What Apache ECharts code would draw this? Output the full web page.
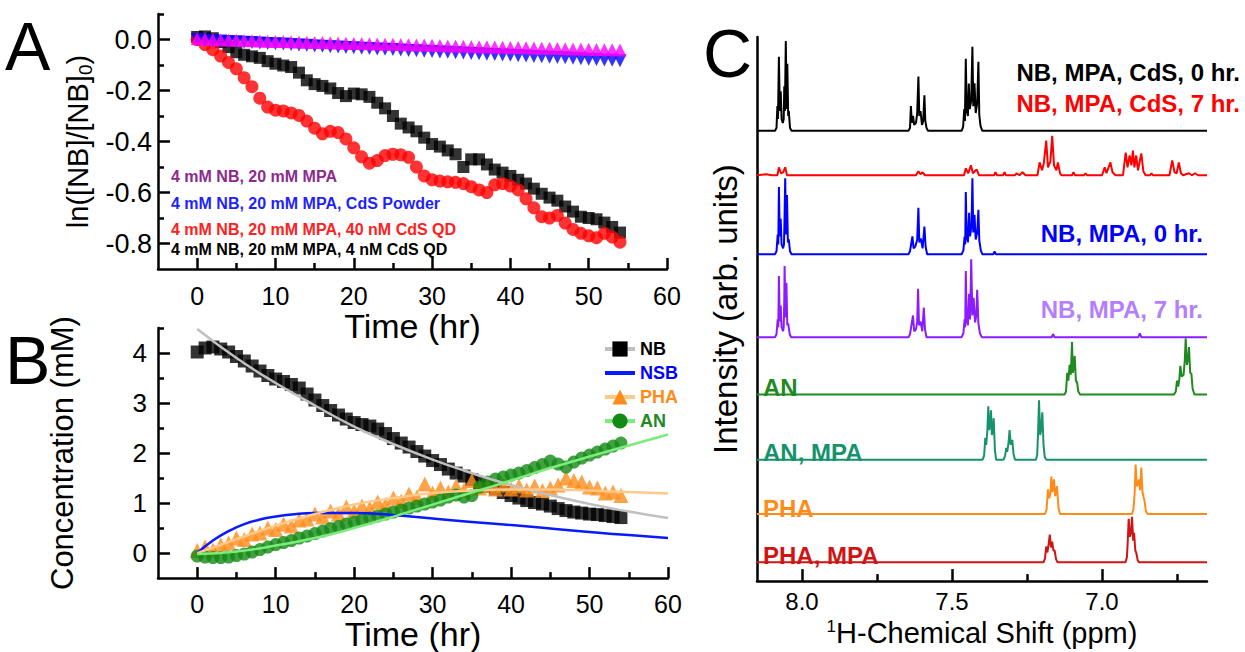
<!DOCTYPE html>
<html>
<head>
<meta charset="utf-8">
<script src="https://cdn.jsdelivr.net/npm/echarts@6/dist/echarts.min.js"></script>
<style>
html, body {margin: 0; padding: 0; background: #fff;}
#main_chart {width: 1245px; height: 652px;}
</style>
</head>
<body>
<div id="main_chart"></div>
<script>
// A 图：ln([NB]/[NB]0) 随时间变化
var hours = [0,1,2,3,4,5,6,7,8,9,10,11,12,13,14,15,16,17,18,19,20,21,22,23,24,25,26,27,28,29,30,31,32,33,34,35,36,37,38,39,40,41,42,43,44,45,46,47,48,49,50,51,52,53,54];
var ln_magenta = [0.003,0.002,0.0,-0.001,-0.002,-0.003,-0.004,-0.005,-0.006,-0.007,-0.008,-0.008,-0.009,-0.01,-0.011,-0.012,-0.012,-0.013,-0.014,-0.015,-0.016,-0.016,-0.017,-0.018,-0.019,-0.019,-0.02,-0.021,-0.022,-0.022,-0.023,-0.024,-0.025,-0.025,-0.026,-0.027,-0.028,-0.028,-0.029,-0.03,-0.031,-0.031,-0.032,-0.033,-0.034,-0.034,-0.035,-0.036,-0.037,-0.037,-0.038,-0.039,-0.04,-0.04,-0.041];
var ln_blue = [0,-0.002,-0.005,-0.006,-0.008,-0.009,-0.011,-0.012,-0.014,-0.016,-0.017,-0.018,-0.02,-0.022,-0.023,-0.025,-0.026,-0.028,-0.029,-0.031,-0.032,-0.034,-0.035,-0.037,-0.038,-0.039,-0.041,-0.043,-0.044,-0.046,-0.047,-0.049,-0.05,-0.052,-0.053,-0.055,-0.056,-0.058,-0.059,-0.061,-0.062,-0.064,-0.065,-0.067,-0.068,-0.07,-0.071,-0.072,-0.074,-0.075,-0.077,-0.078,-0.08,-0.081,-0.083];
var ln_red = [0,-0.02,-0.04,-0.065,-0.09,-0.115,-0.15,-0.185,-0.23,-0.265,-0.277,-0.28,-0.288,-0.298,-0.32,-0.348,-0.37,-0.36,-0.365,-0.39,-0.425,-0.46,-0.485,-0.475,-0.455,-0.45,-0.452,-0.462,-0.5,-0.535,-0.55,-0.555,-0.558,-0.56,-0.565,-0.577,-0.59,-0.6,-0.57,-0.565,-0.575,-0.59,-0.625,-0.66,-0.695,-0.7,-0.69,-0.72,-0.745,-0.76,-0.77,-0.777,-0.76,-0.775,-0.795];
var ln_black = [0.01,0.012,0.005,-0.01,-0.03,-0.05,-0.06,-0.066,-0.072,-0.085,-0.095,-0.102,-0.108,-0.13,-0.16,-0.175,-0.182,-0.192,-0.21,-0.222,-0.212,-0.215,-0.225,-0.248,-0.27,-0.3,-0.33,-0.345,-0.36,-0.385,-0.41,-0.42,-0.435,-0.45,-0.5,-0.47,-0.47,-0.49,-0.51,-0.522,-0.535,-0.55,-0.565,-0.585,-0.605,-0.62,-0.632,-0.655,-0.675,-0.695,-0.7,-0.705,-0.718,-0.735,-0.757];
var a_labels = ['4 mM NB, 20 mM MPA', '4 mM NB, 20 mM MPA, CdS Powder', '4 mM NB, 20 mM MPA, 40 nM CdS QD', '4 mM NB, 20 mM MPA, 4 nM CdS QD'];

// B 图：浓度 (mM)
var conc_nb = [4.02,4.1,4.12,4.08,4.02,3.93,3.84,3.74,3.64,3.55,3.48,3.43,3.37,3.3,3.18,3.06,2.95,2.85,2.76,2.68,2.61,2.57,2.54,2.48,2.39,2.29,2.2,2.12,2.03,1.94,1.85,1.77,1.68,1.6,1.54,1.47,1.4,1.34,1.28,1.21,1.15,1.1,1.05,1.01,0.98,0.94,0.89,0.85,0.82,0.8,0.78,0.77,0.75,0.73,0.71];
var conc_pha = [0.05,0.12,0.06,0.16,0.2,0.3,0.27,0.38,0.4,0.5,0.47,0.58,0.54,0.66,0.68,0.78,0.72,0.84,0.78,0.92,0.84,0.94,0.9,1.02,0.97,1.1,1.04,1.18,1.12,1.38,1.2,1.3,1.22,1.34,1.26,1.45,1.3,1.36,1.28,1.36,1.28,1.34,1.26,1.34,1.25,1.3,1.36,1.5,1.45,1.42,1.32,1.3,1.2,1.22,1.15];
var conc_an = [-0.06,-0.08,-0.09,-0.09,-0.08,-0.05,-0.02,0.02,0.07,0.12,0.17,0.21,0.25,0.3,0.34,0.39,0.44,0.49,0.53,0.58,0.62,0.66,0.7,0.74,0.78,0.82,0.86,0.9,0.94,0.98,1.02,1.06,1.12,1.16,1.12,1.15,1.32,1.42,1.48,1.52,1.56,1.6,1.65,1.71,1.77,1.84,1.78,1.72,1.82,1.9,1.96,2.02,2.08,2.14,2.2];
var fit_time = [0,5,10,15,20,25,30,35,40,45,50,55,60];
var fit_nb = [4.48,3.9,3.4,2.95,2.53,2.18,1.87,1.6,1.36,1.16,0.98,0.83,0.7];
var fit_pha = [0,0.28,0.55,0.78,0.97,1.1,1.2,1.25,1.27,1.27,1.25,1.22,1.19];
var fit_an = [-0.02,0.03,0.15,0.3,0.5,0.73,0.97,1.21,1.45,1.7,1.93,2.15,2.37];
var nsb_time = [0,2,4,6,8,10,12,15,20,25,30,35,40,45,50,55,60];
var nsb_model = [0,0.25,0.44,0.58,0.67,0.73,0.77,0.8,0.8,0.76,0.69,0.62,0.56,0.49,0.42,0.36,0.3];

// C 图：核磁谱 [ppm, 强度]
var spec_nb_cds_0 = [[8.15,0],[8.090,0],[8.085,3],[8.082,25],[8.080,12],[8.077,75],[8.074,20],[8.071,40],[8.068,12],[8.064,8],[8.061,12],[8.059,45],[8.057,20],[8.054,91],[8.051,22],[8.049,68],[8.046,15],[8.044,20],[8.040,3],[8.035,0],
  [7.645,0],[7.640,3],[7.637,25],[7.634,8],[7.630,15],[7.626,6],[7.620,8],[7.616,18],[7.612,55],[7.609,15],[7.605,20],[7.600,6],[7.596,10],[7.592,36],[7.589,10],[7.585,3],[7.580,0],
  [7.468,0],[7.463,4],[7.459,22],[7.457,10],[7.454,73],[7.451,20],[7.447,15],[7.444,48],[7.441,22],[7.436,30],[7.432,85],[7.429,25],[7.425,48],[7.421,18],[7.416,28],[7.412,70],[7.409,16],[7.405,5],[7.399,0],[6.65,0]];
var spec_nb_cds_7 = [[8.15,0],[8.12,1],[8.10,0],[8.082,0],[8.077,8],[8.070,2],[8.063,3],[8.056,8],[8.050,0],
  [7.62,0],[7.612,4],[7.605,1],[7.598,3],[7.59,0],
  [7.46,0],[7.454,7],[7.446,2],[7.437,10],[7.430,2],[7.418,6],[7.41,0],
  [7.36,0],[7.355,3],[7.35,0],[7.33,0],[7.325,3],[7.32,0],[7.29,0],[7.285,2],[7.275,0],[7.265,3],[7.255,0],
  [7.215,0],[7.208,13],[7.2,5],[7.194,12],[7.186,35],[7.180,8],[7.172,14],[7.166,40],[7.160,10],[7.152,5],[7.147,13],[7.140,2],[7.135,0],
  [7.10,0],[7.095,3],[7.09,0],[7.06,0],[7.055,2],[7.05,0],
  [7.0,0],[6.991,8],[6.985,2],[6.972,13],[6.965,3],[6.955,0],[6.93,0],[6.921,23],[6.915,8],[6.908,20],[6.902,10],[6.897,25],[6.892,8],[6.886,20],[6.880,5],[6.869,22],[6.862,4],[6.855,0],[6.84,0],[6.835,2],[6.83,0],
  [6.775,0],[6.766,15],[6.758,3],[6.751,2],[6.744,13],[6.737,2],[6.73,0],[6.71,2],[6.70,0],[6.69,2],[6.68,0],[6.65,0]];
var spec_nb_0 = [[8.15,0],[8.090,0],[8.085,3],[8.081,20],[8.079,10],[8.077,68],[8.074,18],[8.071,36],[8.068,10],[8.063,6],[8.060,10],[8.058,40],[8.056,77],[8.053,20],[8.050,60],[8.047,12],[8.044,15],[8.040,3],[8.035,0],
  [7.645,0],[7.640,3],[7.632,18],[7.628,6],[7.622,8],[7.616,15],[7.612,47],[7.609,12],[7.604,16],[7.598,6],[7.592,28],[7.588,8],[7.583,0],
  [7.468,0],[7.462,4],[7.458,18],[7.456,10],[7.454,63],[7.451,18],[7.447,12],[7.443,42],[7.440,18],[7.435,28],[7.432,77],[7.429,22],[7.425,40],[7.421,15],[7.416,22],[7.412,45],[7.409,14],[7.404,4],[7.399,0],
  [7.362,0],[7.358,3],[7.354,0],[6.65,0]];
var spec_nb_7 = [[8.15,0],[8.090,0],[8.085,3],[8.081,18],[8.079,10],[8.077,62],[8.074,16],[8.071,32],[8.068,10],[8.063,6],[8.061,10],[8.059,38],[8.058,72],[8.055,20],[8.052,55],[8.049,12],[8.046,14],[8.041,3],[8.036,0],
  [7.645,0],[7.640,3],[7.630,22],[7.626,6],[7.620,8],[7.616,16],[7.613,49],[7.610,12],[7.605,16],[7.599,6],[7.594,30],[7.590,8],[7.585,0],
  [7.468,0],[7.462,4],[7.458,18],[7.456,10],[7.454,67],[7.451,18],[7.447,12],[7.443,44],[7.440,18],[7.439,28],[7.436,79],[7.432,22],[7.428,40],[7.423,15],[7.419,22],[7.416,48],[7.412,14],[7.407,4],[7.401,0],
  [7.168,0],[7.163,3],[7.158,0],[6.879,0],[6.874,4],[6.869,0],[6.65,0]];
var spec_an = [[8.15,0],[7.125,0],[7.120,3],[7.116,22],[7.112,14],[7.108,30],[7.104,20],[7.100,53],[7.097,22],[7.094,28],[7.091,39],[7.087,14],[7.083,12],[7.079,3],[7.073,0],
  [6.760,0],[6.754,3],[6.750,14],[6.746,8],[6.742,16],[6.739,29],[6.734,18],[6.728,20],[6.724,35],[6.721,57],[6.717,30],[6.713,36],[6.710,48],[6.706,22],[6.702,21],[6.698,6],[6.692,0],[6.65,0]];
var spec_an_mpa = [[8.15,0],[7.398,0],[7.393,4],[7.389,22],[7.386,15],[7.382,30],[7.379,54],[7.376,30],[7.373,35],[7.370,50],[7.367,25],[7.364,28],[7.361,42],[7.357,10],[7.353,0],
  [7.328,0],[7.323,4],[7.319,12],[7.316,8],[7.312,16],[7.308,30],[7.304,15],[7.299,20],[7.295,6],[7.290,0],
  [7.220,0],[7.216,5],[7.213,28],[7.210,60],[7.206,25],[7.203,30],[7.199,48],[7.195,15],[7.191,3],[7.186,0],[6.65,0]];
var spec_pha = [[8.15,0],[7.190,0],[7.185,4],[7.180,25],[7.176,16],[7.172,20],[7.169,38],[7.165,22],[7.160,35],[7.156,18],[7.150,28],[7.145,6],[7.140,0],
  [6.900,0],[6.895,5],[6.891,22],[6.888,50],[6.884,28],[6.880,30],[6.877,35],[6.873,24],[6.869,47],[6.865,22],[6.862,18],[6.858,13],[6.854,3],[6.848,0],[6.65,0]];
var spec_pha_mpa = [[8.15,0],[7.195,0],[7.190,4],[7.186,16],[7.182,10],[7.178,18],[7.174,28],[7.170,15],[7.166,21],[7.162,12],[7.158,12],[7.153,3],[7.148,0],
  [6.922,0],[6.917,5],[6.914,22],[6.911,44],[6.907,26],[6.903,30],[6.900,46],[6.896,22],[6.893,30],[6.889,12],[6.886,10],[6.881,2],[6.876,0],[6.65,0]];
var spec_names = ['NB, MPA, CdS, 0 hr.', 'NB, MPA, CdS, 7 hr.', 'NB, MPA, 0 hr.', 'NB, MPA, 7 hr.', 'AN', 'AN, MPA', 'PHA', 'PHA, MPA'];
var spec_offset = [456, 411, 331, 247, 189, 123, 68, 19];

var FONT = "'Liberation Sans', Arial, sans-serif";
var TICK = {color: '#000', width: 2.5};

function pairs(xs, ys) {
    return xs.map(function (x, i) { return [x, ys[i]]; });
}

function shift(spec, off) {
    return spec.map(function (p) { return [p[0], p[1] + off]; });
}

function one_dec(v) {
    return v.toFixed(1);
}

// 主刻度轴（带刻度标签）
function tick_axis(gridIndex, extra) {
    var axis = {
        type: 'value',
        gridIndex: gridIndex,
        splitLine: {show: false},
        axisLine: {show: true, onZero: false, lineStyle: {color: '#000', width: 2.5}},
        nameTextStyle: {color: '#000', fontSize: 34, fontFamily: FONT}
    };
    return Object.assign(axis, extra);
}

// 次刻度轴（只画短刻度）
function minor_axis(gridIndex, pos, extra) {
    var axis = {
        type: 'value',
        gridIndex: gridIndex,
        position: pos,
        splitLine: {show: false},
        axisLine: {show: false, onZero: false},
        axisLabel: {show: false}
    };
    return Object.assign(axis, extra);
}

// 初始化 echarts 实例
var main_chart = echarts.init(document.getElementById('main_chart'), null, {renderer: 'svg'});

var spec_list = [spec_nb_cds_0, spec_nb_cds_7, spec_nb_0, spec_nb_7, spec_an, spec_an_mpa, spec_pha, spec_pha_mpa];
var spec_colors = ['#000000', '#ff0000', '#0000ff', '#8a1cff', '#1f8a1f', '#16936c', '#ff8c1a', '#d01414'];
var label_colors = ['#000000', '#ff0000', '#0000ff', '#b47fff', '#1f8a1f', '#16936c', '#ff8c1a', '#d01414'];

var spec_series = spec_list.map(function (spec, i) {
    return {
        name: spec_names[i],
        type: 'line',
        xAxisIndex: 4,
        yAxisIndex: 4,
        data: shift(spec, spec_offset[i]),
        symbol: 'none',
        lineStyle: {color: spec_colors[i], width: 2},
        z: 3
    };
});

var graphic_text = [
    {type: 'text', left: 5, top: 12, style: {text: 'A', fontSize: 68, fontFamily: FONT, fill: '#000'}},
    {type: 'text', left: 5, top: 326, style: {text: 'B', fontSize: 68, fontFamily: FONT, fill: '#000'}},
    {type: 'text', left: 703, top: 19, style: {text: 'C', fontSize: 68, fontFamily: FONT, fill: '#000'}}
];

var a_colors = ['#8e2a8e', '#1f1fff', '#ff2020', '#000000'];
var a_ys = [176, 203, 229, 249];
a_labels.forEach(function (t, i) {
    graphic_text.push({type: 'text', x: 171, y: a_ys[i], style: {text: t, fontSize: 16, fontWeight: 'bold', fontFamily: FONT, fill: a_colors[i], textVerticalAlign: 'middle'}});
});

var c_label_x = [1240, 1240, 1203, 1203, 763, 763, 763, 763];
var c_label_y = [72, 103, 233, 309, 387, 452, 508, 555];
spec_names.forEach(function (t, i) {
    graphic_text.push({type: 'text', x: c_label_x[i], y: c_label_y[i], style: {text: t, fontSize: 24, fontWeight: 'bold', fontFamily: FONT, fill: label_colors[i], textAlign: i < 4 ? 'right' : 'left', textVerticalAlign: 'middle'}});
});

var option = {
    animation: false,
    backgroundColor: '#fff',
    textStyle: {fontFamily: FONT},
    graphic: graphic_text,
    grid: [
        {left: 158, top: 14, width: 509, height: 255},
        {left: 158, top: 328, width: 510, height: 255},
        {left: 757, top: 37, width: 450, height: 551}
    ],
    legend: {
        left: 598,
        top: 335,
        orient: 'vertical',
        itemGap: 6,
        itemWidth: 30,
        itemHeight: 19,
        lineStyle: {width: 4},
        textStyle: {fontSize: 18, fontWeight: 'bold', fontFamily: FONT},
        data: [
            {name: 'NB', textStyle: {color: '#000'}},
            {name: 'NSB', textStyle: {color: '#0000ff'}, itemStyle: {opacity: 0}},
            {name: 'PHA', textStyle: {color: '#ff8c1a'}},
            {name: 'AN', textStyle: {color: '#1f8a1f'}}
        ]
    },
    xAxis: [
        tick_axis(0, {min: -5, max: 60, name: 'Time (hr)', nameLocation: 'middle', nameGap: 33,
            axisTick: {show: true, inside: true, length: 11, customValues: [0, 10, 20, 30, 40, 50, 60], lineStyle: TICK},
            axisLabel: {color: '#000', fontSize: 25, fontFamily: FONT, margin: 14, customValues: [0, 10, 20, 30, 40, 50, 60]}}),
        minor_axis(0, 'bottom', {min: -5, max: 60, axisTick: {show: true, inside: true, length: 6, customValues: [5, 15, 25, 35, 45, 55], lineStyle: TICK}}),
        tick_axis(1, {min: -5, max: 60, name: 'Time (hr)', nameLocation: 'middle', nameGap: 34,
            axisTick: {show: true, inside: true, length: 11, customValues: [0, 10, 20, 30, 40, 50, 60], lineStyle: TICK},
            axisLabel: {color: '#000', fontSize: 25, fontFamily: FONT, margin: 13, customValues: [0, 10, 20, 30, 40, 50, 60]}}),
        minor_axis(1, 'bottom', {min: -5, max: 60, axisTick: {show: true, inside: true, length: 6, customValues: [5, 15, 25, 35, 45, 55], lineStyle: TICK}}),
        tick_axis(2, {min: 6.65, max: 8.15, inverse: true, name: '{sup|1}H-Chemical Shift (ppm)', nameLocation: 'middle', nameGap: 33,
            nameTextStyle: {color: '#000', fontSize: 29, fontFamily: FONT, rich: {sup: {fontSize: 17, padding: [0, 0, 12, 0], fontFamily: FONT, color: '#000'}}},
            axisTick: {show: true, inside: true, length: 12, customValues: [8.0, 7.5, 7.0], lineStyle: TICK},
            axisLabel: {color: '#000', fontSize: 24, fontFamily: FONT, margin: 8, customValues: [8.0, 7.5, 7.0], formatter: one_dec}}),
        minor_axis(2, 'bottom', {min: 6.65, max: 8.15, inverse: true, axisTick: {show: true, inside: true, length: 7, customValues: [7.75, 7.25, 6.75], lineStyle: TICK}})
    ],
    yAxis: [
        tick_axis(0, {min: -0.9, max: 0.1, name: 'ln([NB]/[NB]{sub|0})', nameLocation: 'middle', nameGap: 63,
            nameTextStyle: {color: '#000', fontSize: 29, fontFamily: FONT, rich: {sub: {fontSize: 19, padding: [15, 0, 0, 0], fontFamily: FONT, color: '#000'}}},
            axisTick: {show: true, inside: true, length: 12, customValues: [-0.8, -0.6, -0.4, -0.2, 0], lineStyle: TICK},
            axisLabel: {color: '#000', fontSize: 27, fontFamily: FONT, margin: 6, customValues: [-0.8, -0.6, -0.4, -0.2, 0], formatter: one_dec}}),
        minor_axis(0, 'left', {min: -0.9, max: 0.1, axisTick: {show: true, inside: true, length: 6, customValues: [-0.7, -0.5, -0.3, -0.1, 0.1], lineStyle: TICK}}),
        tick_axis(1, {min: -0.5, max: 4.5, name: 'Concentration (mM)', nameLocation: 'middle', nameGap: 80,
            nameTextStyle: {color: '#000', fontSize: 31, fontFamily: FONT},
            axisTick: {show: true, inside: true, length: 12, customValues: [0, 1, 2, 3, 4], lineStyle: TICK},
            axisLabel: {color: '#000', fontSize: 26, fontFamily: FONT, margin: 11, customValues: [0, 1, 2, 3, 4]}}),
        minor_axis(1, 'left', {min: -0.5, max: 4.5, axisTick: {show: true, inside: true, length: 6, customValues: [0.5, 1.5, 2.5, 3.5, 4.5], lineStyle: TICK}}),
        tick_axis(2, {min: 0, max: 551, name: 'Intensity (arb. units)', nameLocation: 'middle', nameGap: 15,
            nameTextStyle: {color: '#000', fontSize: 33, fontFamily: FONT},
            axisTick: {show: false}, axisLabel: {show: false}}),
        minor_axis(2, 'left', {min: 0, max: 551, axisTick: {show: false}})
    ],
    series: [
        // A 图
        {name: 'a_black', type: 'scatter', xAxisIndex: 0, yAxisIndex: 0, data: pairs(hours, ln_black), symbol: 'rect', symbolSize: 12, itemStyle: {color: '#000'}},
        {name: 'a_red', type: 'scatter', xAxisIndex: 0, yAxisIndex: 0, data: pairs(hours, ln_red), symbol: 'circle', symbolSize: 13, itemStyle: {color: '#ff0000'}},
        {name: 'a_blue', type: 'scatter', xAxisIndex: 0, yAxisIndex: 0, data: pairs(hours, ln_blue), symbol: 'triangle', symbolRotate: 180, symbolSize: 13, itemStyle: {color: '#0000ff'}},
        {name: 'a_magenta', type: 'scatter', xAxisIndex: 0, yAxisIndex: 0, data: pairs(hours, ln_magenta), symbol: 'triangle', symbolSize: 13, itemStyle: {color: '#ff00ff'}},
        // B 图：数据点
        {name: 'nb_data', type: 'scatter', xAxisIndex: 2, yAxisIndex: 2, data: pairs(hours, conc_nb), symbol: 'rect', symbolSize: 13, itemStyle: {color: '#000'}},
        {name: 'pha_data', type: 'scatter', xAxisIndex: 2, yAxisIndex: 2, data: pairs(hours, conc_pha), symbol: 'triangle', symbolSize: 15, itemStyle: {color: '#ff8c1a'}},
        {name: 'an_data', type: 'scatter', xAxisIndex: 2, yAxisIndex: 2, data: pairs(hours, conc_an), symbol: 'circle', symbolSize: 13, itemStyle: {color: '#138a13'}},
        // B 图：拟合曲线
        {name: 'NB', type: 'line', xAxisIndex: 2, yAxisIndex: 2, data: pairs(fit_time, fit_nb), smooth: true, showSymbol: false, symbol: 'rect', itemStyle: {color: '#000'}, lineStyle: {color: '#c0c0c0', width: 2.5}, z: 4},
        {name: 'NSB', type: 'line', xAxisIndex: 2, yAxisIndex: 2, data: pairs(nsb_time, nsb_model), smooth: true, showSymbol: false, symbol: 'none', itemStyle: {color: '#0000ff'}, lineStyle: {color: '#0a1aff', width: 2.5}, z: 4},
        {name: 'PHA', type: 'line', xAxisIndex: 2, yAxisIndex: 2, data: pairs(fit_time, fit_pha), smooth: true, showSymbol: false, symbol: 'triangle', itemStyle: {color: '#ff8c1a'}, lineStyle: {color: '#ffc98a', width: 2.5}, z: 4},
        {name: 'AN', type: 'line', xAxisIndex: 2, yAxisIndex: 2, data: pairs(fit_time, fit_an), smooth: true, showSymbol: false, symbol: 'circle', itemStyle: {color: '#138a13'}, lineStyle: {color: '#7cec7c', width: 2.5}, z: 4}
    ].concat(spec_series)
};

main_chart.setOption(option);
</script>
</body>
</html>
